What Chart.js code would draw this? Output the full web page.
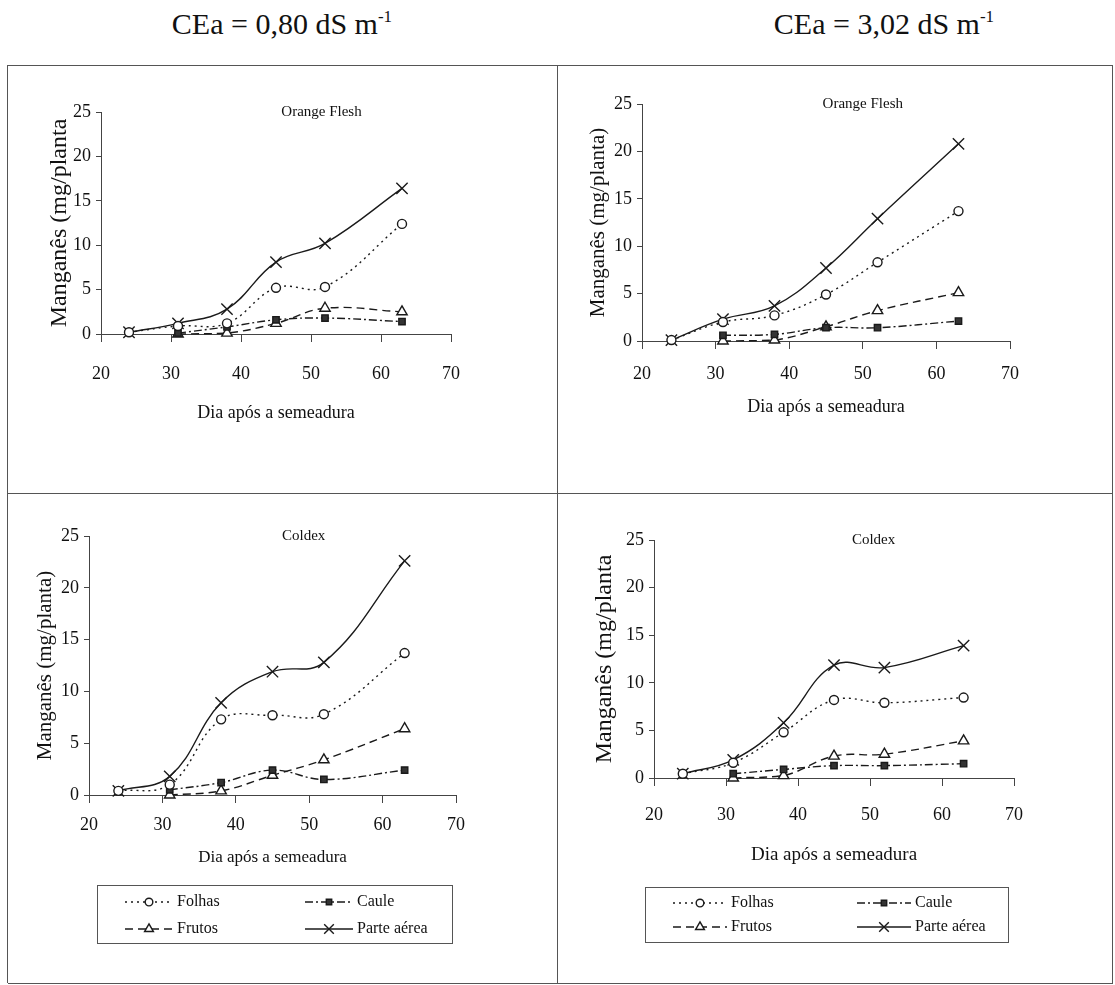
<!DOCTYPE html>
<html lang="pt">
<head>
<meta charset="UTF-8">
<title>Manganês - Orange Flesh e Coldex</title>
<script src="https://cdn.jsdelivr.net/npm/chart.js"></script>
<style>
  body { margin: 0; background: #fff; }
  #pagina { position: relative; width: 1115px; height: 985px; overflow: hidden;
            font-family: 'Liberation Serif', 'Times New Roman', serif; color: #111; }
  .cab { position: absolute; top: 9px; width: 320px; text-align: center;
         font-size: 30px; line-height: 1; white-space: nowrap; }
  .cab sup { font-size: 17px; line-height: 0; vertical-align: 12px; }
  .linha { position: absolute; background: #555; }
  canvas { position: absolute; }
</style>
</head>
<body>
<div id="pagina">
  <div class="cab" style="left:122px">CEa = 0,80 dS m<sup>-1</sup></div>
  <div class="cab" style="left:724px">CEa = 3,02 dS m<sup>-1</sup></div>

  <div class="linha" style="left:8px; top:65px; width:1105px; height:1px"></div>
  <div class="linha" style="left:8px; top:493px; width:1105px; height:1px"></div>
  <div class="linha" style="left:8px; top:983px; width:1105px; height:1px"></div>
  <div class="linha" style="left:7px; top:65px; width:1px; height:918px"></div>
  <div class="linha" style="left:557px; top:65px; width:1px; height:918px"></div>
  <div class="linha" style="left:1112px; top:65px; width:1px; height:918px"></div>

  <canvas id="g1" width="549" height="428" style="left:8px; top:65px"></canvas>
  <canvas id="g2" width="556" height="428" style="left:557px; top:65px"></canvas>
  <canvas id="g3" width="549" height="490" style="left:8px; top:493px"></canvas>
  <canvas id="g4" width="556" height="490" style="left:557px; top:493px"></canvas>
</div>
<script>
// dias de coleta
const dias = [24, 31, 38, 45, 52, 63];
const series = ['Folhas', 'Caule', 'Frutos', 'Parte aérea'];
const ticksX = [20, 30, 40, 50, 60, 70];
const ticksY = [0, 5, 10, 15, 20, 25];

// Orange Flesh, CEa = 0,80
const ofBaixaFolhas = [0.2, 0.9, 1.2, 5.2, 5.3, 12.4];
const ofBaixaCaule  = [null, 0.1, 0.8, 1.6, 1.8, 1.4];
const ofBaixaFrutos = [null, 0.0, 0.1, 1.2, 2.9, 2.5];
const ofBaixaParte  = [0.2, 1.2, 2.8, 8.1, 10.2, 16.4];

// Orange Flesh, CEa = 3,02
const ofAltaFolhas = [0.1, 2.0, 2.7, 4.9, 8.3, 13.7];
const ofAltaCaule  = [null, 0.6, 0.7, 1.4, 1.4, 2.1];
const ofAltaFrutos = [null, 0.0, 0.1, 1.5, 3.2, 5.1];
const ofAltaParte  = [0.1, 2.3, 3.7, 7.7, 12.9, 20.8];

// Coldex, CEa = 0,80
const gdBaixaFolhas = [0.4, 1.0, 7.3, 7.7, 7.8, 13.7];
const gdBaixaCaule  = [null, 0.5, 1.2, 2.4, 1.5, 2.4];
const gdBaixaFrutos = [null, 0.0, 0.4, 1.9, 3.4, 6.4];
const gdBaixaParte  = [0.4, 1.8, 8.9, 11.9, 12.8, 22.6];

// Coldex, CEa = 3,02
const gdAltaFolhas = [0.45, 1.6, 4.8, 8.2, 7.9, 8.45];
const gdAltaCaule  = [null, 0.45, 0.9, 1.3, 1.3, 1.5];
const gdAltaFrutos = [null, 0.0, 0.25, 2.3, 2.5, 3.9];
const gdAltaParte  = [0.45, 1.9, 5.8, 11.85, 11.6, 13.9];

const FONTE = "'Liberation Serif', 'Times New Roman', serif";
const COR = '#1a1a1a';

// estilo de linha e marcador de cada serie
const estilos = {
  'Folhas':      { dash: [2, 4],        ponto: 'circle',   raio: 4.5, fundo: '#fff' },
  'Caule':       { dash: [8, 3, 2, 3],  ponto: 'rect',     raio: 4.5, fundo: '#333' },
  'Frutos':      { dash: [8, 5],        ponto: 'triangle', raio: 6,   fundo: '#fff' },
  'Parte aérea': { dash: [],            ponto: 'crossRot', raio: 8,   fundo: '#fff' }
};

function pontos(valores) {
  return dias.map((d, i) => ({ x: d, y: valores[i] })).filter(p => p.y !== null);
}

function montarDatasets(listas) {
  return series.map((nome, i) => {
    const e = estilos[nome];
    return {
      label: nome,
      data: pontos(listas[i]),
      borderColor: COR,
      borderWidth: 1.4,
      borderDash: e.dash,
      tension: 0.4,
      fill: false,
      clip: false,
      pointStyle: e.ponto,
      pointRadius: e.raio,
      pointBackgroundColor: e.fundo,
      pointBorderColor: COR,
      pointBorderWidth: 1.4
    };
  });
}

// titulo do painel (cultivar) dentro da area do grafico
const tituloPainel = {
  id: 'tituloPainel',
  afterDraw(chart, args, opts) {
    if (!opts.texto) return;
    const a = chart.chartArea, ctx = chart.ctx;
    ctx.save();
    ctx.font = opts.fonte;
    ctx.fillStyle = '#111';
    ctx.textAlign = 'center';
    ctx.textBaseline = 'middle';
    ctx.fillText(opts.texto, a.left + opts.frac * (a.right - a.left), a.top);
    ctx.restore();
  }
};

// legenda com amostra de linha + marcador, em duas colunas
const legendaAmostras = {
  id: 'legendaAmostras',
  afterDraw(chart, args, opts) {
    if (!opts.caixa) return;
    const ctx = chart.ctx;
    const [bx, by, bw, bh] = opts.caixa;
    ctx.save();
    ctx.strokeStyle = '#555';
    ctx.lineWidth = 1;
    ctx.strokeRect(bx + 0.5, by + 0.5, bw, bh);
    ctx.font = opts.fonte;
    ctx.textBaseline = 'middle';
    chart.data.datasets.forEach((ds, i) => {
      const x0 = opts.colunas[i % 2];
      const y = opts.linhas[Math.floor(i / 2)];
      const x1 = x0 + opts.comprimento;
      ctx.strokeStyle = ds.borderColor;
      ctx.lineWidth = ds.borderWidth;
      ctx.setLineDash(ds.borderDash);
      ctx.beginPath();
      ctx.moveTo(x0, y);
      ctx.lineTo(x1, y);
      ctx.stroke();
      ctx.setLineDash([]);
      ctx.fillStyle = ds.pointBackgroundColor;
      ctx.strokeStyle = ds.pointBorderColor;
      ctx.lineWidth = ds.pointBorderWidth;
      Chart.helpers.drawPoint(ctx, {
        pointStyle: ds.pointStyle, radius: ds.pointRadius * 0.85, rotation: 0,
        borderWidth: ds.pointBorderWidth
      }, (x0 + x1) / 2, y);
      ctx.fillStyle = '#111';
      ctx.fillText(ds.label, x1 + 4, y);
    });
    ctx.restore();
  }
};

Chart.register(tituloPainel, legendaAmostras);

function criarPainel(id, listas, cfg) {
  new Chart(document.getElementById(id), {
    type: 'line',
    data: { datasets: montarDatasets(listas) },
    options: {
      responsive: false,
      animation: false,
      events: [],
      layout: { padding: cfg.padding },
      plugins: {
        legend: { display: false },
        tooltip: { enabled: false },
        tituloPainel: { texto: cfg.titulo, frac: cfg.fracTitulo, fonte: '15px ' + FONTE },
        legendaAmostras: cfg.legenda || {}
      },
      scales: {
        x: {
          type: 'linear',
          min: 20, max: 70,
          afterBuildTicks: s => { s.ticks = ticksX.map(v => ({ value: v })); },
          afterFit: s => { s.height = cfg.alturaX; },
          grid: { drawOnChartArea: false, tickLength: 8, color: '#444' },
          border: { color: '#444', width: 1 },
          ticks: { color: '#111', padding: cfg.padX, font: { family: FONTE, size: 18 } },
          title: { display: true, text: 'Dia após a semeadura', color: '#111',
                   font: { family: FONTE, size: cfg.fonteX } }
        },
        y: {
          min: 0, max: 25,
          afterBuildTicks: s => { s.ticks = ticksY.map(v => ({ value: v })); },
          afterFit: s => { s.width = cfg.larguraY; },
          grid: { drawOnChartArea: false, tickLength: 5, color: '#444' },
          border: { color: '#444', width: 1 },
          ticks: { color: '#111', padding: 5, font: { family: FONTE, size: 18 } },
          title: { display: true, text: cfg.tituloY, color: '#111',
                   font: { family: FONTE, size: cfg.fonteY } }
        }
      }
    }
  });
}

criarPainel('g1', [ofBaixaFolhas, ofBaixaCaule, ofBaixaFrutos, ofBaixaParte], {
  titulo: 'Orange Flesh', fracTitulo: 0.63,
  tituloY: 'Manganês (mg/planta', fonteY: 24, fonteX: 18,
  larguraY: 60, alturaX: 94, padX: 21,
  padding: { left: 33, right: 106, top: 47, bottom: 65 }
});

criarPainel('g2', [ofAltaFolhas, ofAltaCaule, ofAltaFrutos, ofAltaParte], {
  titulo: 'Orange Flesh', fracTitulo: 0.6,
  tituloY: 'Manganês (mg/planta)', fonteY: 21, fonteX: 18,
  larguraY: 60, alturaX: 81, padX: 14,
  padding: { left: 25, right: 103, top: 39, bottom: 71 }
});

criarPainel('g3', [gdBaixaFolhas, gdBaixaCaule, gdBaixaFrutos, gdBaixaParte], {
  titulo: 'Coldex', fracTitulo: 0.585,
  tituloY: 'Manganês (mg/planta)', fonteY: 21, fonteX: 17,
  larguraY: 60, alturaX: 77, padX: 11,
  padding: { left: 21, right: 101, top: 43, bottom: 111 },
  legenda: { caixa: [89, 392, 355, 58], colunas: [117, 297], linhas: [409, 436],
             comprimento: 48, fonte: '16px ' + FONTE }
});

criarPainel('g4', [gdAltaFolhas, gdAltaCaule, gdAltaFrutos, gdAltaParte], {
  titulo: 'Coldex', fracTitulo: 0.61,
  tituloY: 'Manganês (mg/planta', fonteY: 24, fonteX: 19,
  larguraY: 68, alturaX: 92, padX: 18,
  padding: { left: 29, right: 99, top: 47, bottom: 113 },
  legenda: { caixa: [88, 394, 363, 55], colunas: [116, 300], linhas: [410, 434],
             comprimento: 54, fonte: '16px ' + FONTE }
});
</script>
</body>
</html>
